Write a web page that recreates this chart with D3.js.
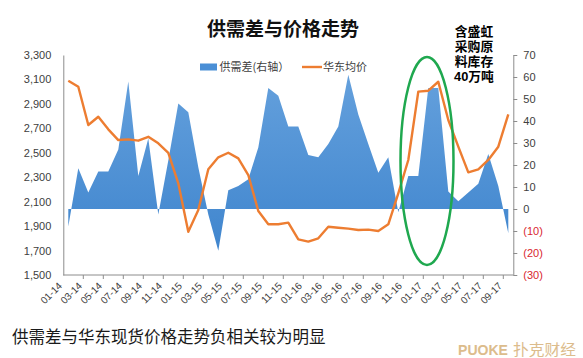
<!DOCTYPE html>
<html><head><meta charset="utf-8">
<script src="https://cdn.jsdelivr.net/npm/d3@7/dist/d3.min.js"></script>
<style>
html,body{margin:0;padding:0;background:#fff;}
svg{display:block;}
text{font-family:"Liberation Sans","Noto Sans CJK SC",sans-serif;}
.cjk{font-family:"Noto Sans CJK SC","Liberation Sans",sans-serif;}
.ann{font-family:"Liberation Sans","Noto Sans CJK SC",sans-serif;}
</style></head>
<body>
<svg id="c" width="583" height="358"></svg>
<script>
const categories = ["01-14","02-14","03-14","04-14","05-14","06-14","07-14","08-14","09-14","10-14","11-14","12-14",
"01-15","02-15","03-15","04-15","05-15","06-15","07-15","08-15","09-15","10-15","11-15","12-15",
"01-16","02-16","03-16","04-16","05-16","06-16","07-16","08-16","09-16","10-16","11-16","12-16",
"01-17","02-17","03-17","04-17","05-17","06-17","07-17","08-17","09-17"];
const tickLabels = ["01-14","03-14","05-14","07-14","09-14","11-14","01-15","03-15","05-15","07-15","09-15","11-15",
"01-16","03-16","05-16","07-16","09-16","11-16","01-17","03-17","05-17","07-17","09-17"];
// 供需差 (right axis)
const supplyGap = [-8,18.5,7.5,17,17,27,58,15,32,-2.5,22,48,
44,19,-2.5,-19,8.5,10.5,13.5,28,55,51.5,37.5,37.5,
24.5,23.5,29.5,37.5,61,43,29.5,16.5,23.5,-1.5,15,15,
55,55,8,3.5,7.5,11.5,25,10.5,-11];
// 华东均价 (left axis)
const price = [3090,3040,2727,2795,2692,2604,2610,2599,2631,2577,2500,2250,
1854,2032,2365,2463,2500,2454,2318,2024,1915,1915,1928,1792,
1773,1800,1895,1887,1879,1868,1871,1860,1915,2168,2441,3000,
3008,3081,2768,2550,2340,2365,2441,2550,2815];
const leftTicks = [1500,1700,1900,2100,2300,2500,2700,2900,3100,3300];
const rightTicks = [-30,-20,-10,0,10,20,30,40,50,60,70];
const annotationLines = ["含盛虹","采购原","料库存","40万吨"];
const boundaryTicks = categories.filter((c,i)=>i>0 && i%2===0);

const svg = d3.select("#c");
const L = 63.3, R = 513.3, T = 55, B = 275;
const x = d3.scaleBand().domain(categories).range([L,R]).paddingInner(0).paddingOuter(0);
const cx = c => x(c) + x.bandwidth()/2;
const yL = d3.scaleLinear().domain([1500,3300]).range([B,T]);
const yR = d3.scaleLinear().domain([-30,70]).range([B,T]);

const defs = svg.append("defs");
const g = defs.append("linearGradient").attr("id","blueg").attr("gradientUnits","userSpaceOnUse")
  .attr("x1",0).attr("y1",T).attr("x2",0).attr("y2",B);
g.append("stop").attr("offset","0%").attr("stop-color","#68a3de");
g.append("stop").attr("offset","100%").attr("stop-color","#3b82cc");

// area
const area = d3.area().x((d,i)=>cx(categories[i])).y0(yR(0)).y1(d=>yR(d));
svg.append("path").datum(supplyGap).attr("d",area).attr("fill","url(#blueg)");

// line
const line = d3.line().x((d,i)=>cx(categories[i])).y(d=>yL(d));
svg.append("path").datum(price).attr("d",line).attr("fill","none")
  .attr("stroke","#ed7d31").attr("stroke-width",2.4).attr("stroke-linejoin","round");

// left axis
const la = svg.append("g").attr("transform",`translate(${L},0)`)
  .call(d3.axisLeft(yL).tickValues(leftTicks).tickSize(0).tickPadding(12).tickFormat(d3.format(",")));
la.select(".domain").attr("stroke","#8c8c8c");
la.selectAll("text").attr("fill","#404040").style("font-size","11px");

// right axis
const ra = svg.append("g").attr("transform",`translate(${R},0)`)
  .call(d3.axisRight(yR).tickValues(rightTicks).tickSizeInner(4).tickSizeOuter(0).tickPadding(6)
    .tickFormat(v => v<0 ? `(${-v})` : `${v}`));
ra.select(".domain").attr("stroke","#8c8c8c");
ra.selectAll(".tick line").attr("stroke","#8c8c8c");
ra.selectAll("text").attr("fill",d=>d<0?"#d9262f":"#404040").style("font-size","11px");

// bottom axis
const ba = svg.append("g").attr("transform",`translate(0,${B})`);
ba.append("line").attr("x1",L).attr("x2",R).attr("y1",0).attr("y2",0).attr("stroke","#8c8c8c");
ba.selectAll("line.tk").data(boundaryTicks).join("line").attr("class","tk")
  .attr("x1",d=>x(d)).attr("x2",d=>x(d)).attr("y1",0).attr("y2",4).attr("stroke","#8c8c8c");
ba.selectAll("text").data(tickLabels).join("text")
  .attr("transform",d=>`translate(${cx(d)-8},9) rotate(-45)`)
  .attr("text-anchor","end").attr("dy","0.35em")
  .attr("fill","#404040").style("font-size","10px").text(d=>d);

// title
svg.append("text").attr("class","cjk").attr("x",283).attr("y",36).attr("text-anchor","middle")
  .style("font-size","19px").style("font-weight","bold").attr("fill","#111").text("供需差与价格走势");

// legend
svg.append("rect").attr("x",200).attr("y",63.5).attr("width",17).attr("height",7).attr("fill","#4a8fd6");
svg.append("text").attr("class","cjk").attr("x",219.5).attr("y",71).style("font-size","11px").attr("fill","#404040").text("供需差(右轴）");
svg.append("line").attr("x1",302).attr("x2",322).attr("y1",67).attr("y2",67).attr("stroke","#ed7d31").attr("stroke-width",2.4);
svg.append("text").attr("class","cjk").attr("x",323).attr("y",71).style("font-size","11px").attr("fill","#404040").text("华东均价");

// annotation
svg.append("g").selectAll("text").data(annotationLines).join("text").attr("class","ann")
  .attr("x",474).attr("y",(d,i)=>35.5+i*15.3).attr("text-anchor","middle")
  .style("font-size","12.8px").style("font-weight","bold").attr("fill","#000").text(d=>d);

// ellipse
svg.append("ellipse").attr("cx",427).attr("cy",161).attr("rx",26.5).attr("ry",104)
  .attr("fill","none").attr("stroke","#1fa84f").attr("stroke-width",2.5);

// caption
svg.append("text").attr("class","cjk").attr("x",12).attr("y",343).style("font-size","16.5px").attr("fill","#1a1a1a")
  .text("供需差与华东现货价格走势负相关较为明显");
// logo
svg.append("text").attr("x",458).attr("y",355).style("font-size","15px").style("font-weight","bold")
  .attr("fill","#dcbc8c").attr("textLength",50).attr("lengthAdjust","spacingAndGlyphs").text("PUOKE");
svg.append("text").attr("class","cjk").attr("x",513).attr("y",355).style("font-size","15px")
  .attr("fill","#dcbc8c").attr("textLength",63).attr("lengthAdjust","spacingAndGlyphs").text("扑克财经");
</script>
</body></html>
